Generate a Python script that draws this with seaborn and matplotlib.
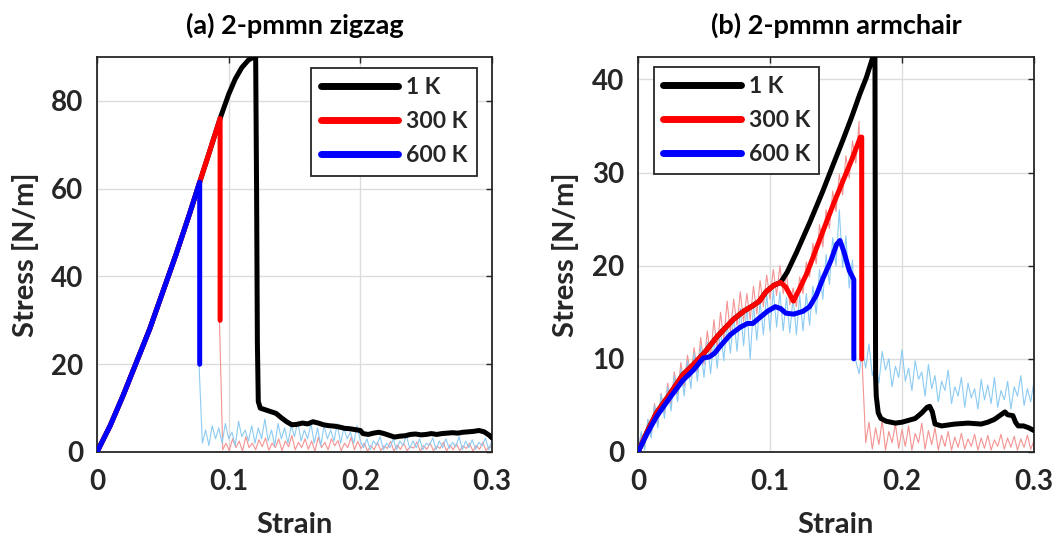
import numpy as np
import matplotlib
matplotlib.use("Agg")
import matplotlib.pyplot as plt
import seaborn as sns

# ---------------- data: panel (a) 2-pmmn zigzag ----------------
a_black_strain = [0, 0.01, 0.02, 0.03, 0.04, 0.05, 0.06, 0.07, 0.078, 0.085, 0.0935, 0.1, 0.105,
                  0.11, 0.115, 0.119, 0.1205, 0.1212, 0.1218, 0.1225, 0.124, 0.128, 0.132, 0.136,
                  0.14, 0.144, 0.148, 0.152, 0.156, 0.16, 0.164, 0.168, 0.172, 0.176, 0.18, 0.184,
                  0.188, 0.192, 0.196, 0.2, 0.202, 0.206, 0.21, 0.214, 0.218, 0.222, 0.226, 0.23,
                  0.234, 0.238, 0.242, 0.246, 0.25, 0.254, 0.258, 0.262, 0.266, 0.27, 0.274, 0.278,
                  0.282, 0.286, 0.29, 0.294, 0.298, 0.3]
a_black_stress = [0, 6, 13, 20.5, 28, 36.5, 45, 54, 61.5, 68, 76, 81.5, 85,
                  87.6, 89.3, 90.0, 90.2, 60, 25, 11.5, 10, 9.6, 9.2, 8.8,
                  7.8, 6.9, 6.2, 6.3, 6.6, 6.4, 6.9, 6.6, 6.2, 6.0, 5.9, 5.7,
                  5.4, 5.3, 5.1, 4.9, 4.2, 4.0, 4.3, 4.5, 4.2, 3.8, 3.4, 3.6,
                  3.7, 4.0, 4.1, 3.9, 4.0, 4.2, 4.0, 4.2, 4.3, 4.4, 4.3, 4.5,
                  4.6, 4.7, 4.9, 4.6, 3.8, 3.2]
a_red_strain = [0, 0.01, 0.02, 0.03, 0.04, 0.05, 0.06, 0.07, 0.078, 0.085, 0.0935, 0.0935]
a_red_stress = [0, 6, 13, 20.5, 28, 36.5, 45, 54, 61.5, 68, 76, 30]
a_blue_strain = [0, 0.01, 0.02, 0.03, 0.04, 0.05, 0.06, 0.07, 0.078, 0.078]
a_blue_stress = [0, 6, 13, 20.5, 28, 36.5, 45, 54, 61.5, 20]

# raw (noisy) traces after fracture, sampled every 0.0025 strain
a_red_raw_start = 0.093
a_red_raw = [30, 0.5, 2, 0.3, 3, 1, 2.5, 0.2, 3.5, 1, 2, 0.5, 2.8, 1.2, 3.2, 0.4, 2, 1, 3, 0.3,
             2.5, 1.2, 3.8, 0.5, 2.2, 1, 3, 0.6, 2.5, 0.2, 3.3, 1, 2.2, 0.5, 3, 1.4, 2.6, 0.3,
             2, 1, 3.4, 0.5, 2.4,
             0.8, 2, 0.2, 1.5, 0.5, 2.2, 0.3, 1.4, 0.8, 2.4, 0.2, 1.6, 0.6, 2, 0.3, 1.2, 0.9,
             2.3, 0.2, 1.5, 0.6, 2.1, 0.3, 1.3, 0.8, 2.2, 0.2, 1.6, 0.5, 1.9, 0.3, 1.4, 0.8, 2,
             0.2, 1.5, 0.6, 2.2, 0.3, 1.3, 0.7]
a_blue_raw_start = 0.0775
a_blue_raw = [20, 2, 5, 1.5, 6, 3, 5.5, 2, 6.5, 3, 4.5, 1.5, 7, 3.5, 5, 2.5, 6, 2, 5.5, 3,
              7.5, 2.5, 5, 1.5, 6.5, 3, 5.5, 2, 6, 3.5, 7, 2.5, 5, 3, 6.5, 2, 5.5, 1.5, 6, 3,
              5, 2.5, 6.5, 2, 5.5, 3, 4.5, 2, 6, 2.5,
              1, 3, 0.5, 2.5, 1.5, 3.5, 0.5, 2, 1, 3, 0.5, 2.5, 1.5, 3.8, 0.8, 2.5, 1, 3, 0.5, 2,
              1.5, 3.2, 0.5, 2.5, 1, 3, 0.8, 2.2, 1.2, 3.5, 0.5, 2.5, 1, 2.8, 0.6, 2.2, 1.4, 3.2,
              0.5, 2.6]

# ---------------- data: panel (b) 2-pmmn armchair ----------------
b_black_strain = [0, 0.007, 0.014, 0.024, 0.034, 0.042, 0.05, 0.06, 0.072, 0.08, 0.087, 0.092,
                  0.097, 0.103, 0.108, 0.113, 0.12, 0.13, 0.14,
                  0.148, 0.155, 0.162, 0.168, 0.173, 0.1775, 0.1795, 0.1798, 0.18, 0.1805,
                  0.182, 0.184, 0.188, 0.195, 0.2, 0.205, 0.21, 0.215, 0.219, 0.221, 0.223,
                  0.225, 0.23, 0.24, 0.25, 0.26, 0.265, 0.27, 0.275, 0.278, 0.28, 0.284,
                  0.286, 0.288, 0.292, 0.296, 0.3]
b_black_stress = [0, 2.2, 4.2, 6.2, 8.3, 9.4, 10.6, 12.4, 14.2, 15.1, 15.7, 16.2,
                  17.2, 17.9, 18.2, 19.3, 21.4, 24.6, 28.0,
                  30.9, 33.4, 36.0, 38.4, 40.2, 42.2, 43.5, 20, 8, 6,
                  4.2, 3.6, 3.3, 3.1, 3.2, 3.4, 3.6, 4.2, 4.8, 4.9, 4.3,
                  3.0, 2.8, 3.0, 3.1, 3.0, 3.2, 3.5, 4.0, 4.3, 4.0, 3.9,
                  3.2, 2.8, 2.8, 2.6, 2.3]
b_red_strain = [0, 0.007, 0.014, 0.024, 0.034, 0.042, 0.05, 0.06, 0.072, 0.08, 0.087, 0.092,
                0.097, 0.103, 0.108, 0.112, 0.1177, 0.122, 0.128, 0.135, 0.142, 0.148, 0.155,
                0.162, 0.1685, 0.1695, 0.1695]
b_red_stress = [0, 2.2, 4.2, 6.2, 8.3, 9.4, 10.6, 12.4, 14.2, 15.1, 15.7, 16.2,
                17.2, 17.9, 18.2, 17.7, 16.2, 17.4, 19.2, 21.8, 24.4, 26.6, 29.0,
                31.4, 33.8, 33.8, 10]
b_blue_strain = [0, 0.007, 0.014, 0.024, 0.034, 0.042, 0.0495, 0.054, 0.058, 0.0625, 0.07,
                 0.0775, 0.083, 0.087, 0.092, 0.098, 0.104, 0.108, 0.112, 0.118, 0.125, 0.13,
                 0.135, 0.14, 0.146, 0.1505, 0.153, 0.156, 0.16, 0.1635, 0.1635]
b_blue_stress = [0, 2.0, 3.8, 5.8, 7.7, 8.8, 10.1, 10.2, 10.6, 11.4, 12.6,
                 13.4, 13.8, 13.8, 14.4, 15.1, 15.6, 15.4, 14.9, 14.8, 15.1, 15.6,
                 16.8, 18.6, 20.5, 22.3, 22.7, 21.5, 19.5, 18.5, 10]

b_raw_start = 0.0
b_red_raw = [0, 2.0, 0.5, 3.5, 1.8, 5.2, 3.0, 6.3, 4.2, 7.4, 5.0, 8.6, 6.2, 9.6, 7.0, 10.4,
             8.0, 11.2, 8.6, 12.3, 9.4, 13.0, 10.2, 14.2, 11.0, 15.0, 12.0, 16.2, 12.8, 16.4,
             13.6, 17.2, 14.0, 17.0, 14.2, 17.8, 14.8, 18.4, 15.6, 19.0, 16.4, 19.6, 16.8,
             20.0, 17.0, 19.2, 15.8, 17.6, 15.6, 18.8, 17.0, 20.4, 18.8, 22.4, 20.2, 24.4,
             22.0, 26.0, 24.0, 28.0, 25.8, 29.8, 27.6, 31.8, 29.4, 33.4, 31.0, 35.5,
             9.0, 1.0, 3.2, 0.3, 2.6, 0.8, 3.4, 0.2, 2.2, 1.0, 3.0, 0.4, 2.4, 0.6, 2.8, 0.2,
             2.0, 1.0, 3.1, 0.3, 2.3, 0.8, 2.6, 0.2, 1.8, 0.6, 2.2, 0.2, 1.6, 0.5, 2.0, 0.3,
             1.4, 0.6, 1.9, 0.2, 1.5, 0.4, 1.8, 0.2, 1.3, 0.6, 1.9, 0.3, 1.5, 0.5, 1.7, 0.2,
             1.4, 0.5, 1.8, 0.3, 1.2]
b_blue_raw = [0, 2.2, 0.2, 3.5, 1.5, 5.0, 2.6, 6.2, 3.6, 7.0, 4.4, 8.2, 5.4, 9.0, 6.0, 9.8,
              6.8, 10.6, 7.6, 11.4, 8.0, 11.8, 8.4, 12.2, 9.0, 13.2, 9.8, 13.8, 10.6, 14.6,
              10.8, 15.4, 11.4, 15.6, 10.0, 15.8, 12.0, 16.2, 12.6, 17.0, 13.0, 17.4, 13.4,
              17.2, 13.0, 16.6, 12.8, 16.6, 12.6, 16.8, 13.0, 17.0, 13.6, 17.8, 14.8, 19.6,
              16.4, 21.2, 18.0, 23.0, 20.0, 26.0, 19.8, 23.2, 17.6, 20.6,
              9.8, 8.4, 10.9, 9.0, 11.6, 8.2, 9.6, 7.4, 10.8, 8.8, 10.0, 7.0, 9.2, 8.0, 11.0,
              7.6, 9.0, 6.6, 9.8, 7.8, 8.6, 6.0, 9.4, 6.8, 8.2, 5.4, 7.6, 6.6, 8.8, 5.2, 7.0,
              6.0, 8.0, 4.8, 7.4, 5.8, 6.8, 4.6, 7.8, 5.6, 7.2, 5.2, 8.0, 4.8, 6.6, 5.6, 7.6,
              4.6, 7.0, 6.0, 8.2, 5.0, 6.8, 5.4, 7.6]
raw_step = 0.0025

labels = ["1 K", "300 K", "600 K"]
titles = ["(a) 2-pmmn zigzag", "(b) 2-pmmn armchair"]
x_ticks = [0, 0.1, 0.2, 0.3]
x_tick_labels = ["0", "0.1", "0.2", "0.3"]
a_y_ticks = [0, 20, 40, 60, 80]
b_y_ticks = [0, 10, 20, 30, 40]

# ---------------- style ----------------
sns.set_theme(style="white")
plt.rcParams["font.family"] = ["Lato", "DejaVu Sans"]
plt.rcParams["font.weight"] = "bold"

C_BLACK, C_RED, C_BLUE = "#000000", "#ff0000", "#0000ff"
C_LRED, C_LBLUE = "#f39392", "#8ccbf3"
TXT = "#262626"

fig = plt.figure(figsize=(10.56, 5.39), dpi=100)
axA = fig.add_axes([97 / 1056, 1 - 452 / 539, 395 / 1056, 395 / 539])
axB = fig.add_axes([638 / 1056, 1 - 452 / 539, 396 / 1056, 395 / 539])


def raw_x(start, n):
    return start + np.arange(n) * raw_step


def line(ax, x, y, color, lw, label=None, z=2):
    sns.lineplot(x=np.asarray(x, float), y=np.asarray(y, float), ax=ax, color=color,
                 linewidth=lw, sort=False, estimator=None, label=label, legend=False,
                 zorder=z)


THICK = 3.6
THIN = 0.8

# panel (a)
line(axA, raw_x(a_red_raw_start, len(a_red_raw)), a_red_raw, C_LRED, THIN, z=1)
line(axA, raw_x(a_blue_raw_start, len(a_blue_raw)), a_blue_raw, C_LBLUE, THIN, z=1.1)
line(axA, a_black_strain, a_black_stress, C_BLACK, THICK, labels[0], z=3)
line(axA, a_red_strain, a_red_stress, C_RED, THICK, labels[1], z=3.1)
line(axA, a_blue_strain, a_blue_stress, C_BLUE, THICK, labels[2], z=3.2)

# panel (b)
line(axB, raw_x(b_raw_start, len(b_red_raw)), b_red_raw, C_LRED, THIN, z=1)
line(axB, raw_x(b_raw_start, len(b_blue_raw)), b_blue_raw, C_LBLUE, THIN, z=1.1)
line(axB, b_black_strain, b_black_stress, C_BLACK, THICK, labels[0], z=3)
line(axB, b_red_strain, b_red_stress, C_RED, THICK, labels[1], z=3.1)
line(axB, b_blue_strain, b_blue_stress, C_BLUE, THICK, labels[2], z=3.2)

for ax, title, yt, ylim in [(axA, titles[0], a_y_ticks, 90), (axB, titles[1], b_y_ticks, 42.4)]:
    ax.set_xlim(0, 0.3)
    ax.set_ylim(0, ylim)
    ax.set_xticks(x_ticks)
    ax.set_xticklabels(x_tick_labels)
    ax.set_yticks(yt)
    ax.grid(True, color="#dcdcdc", linewidth=1.0)
    ax.set_axisbelow(True)
    ax.tick_params(direction="in", length=4, width=1, colors=TXT, labelsize=20,
                   top=True, right=True)
    ax.tick_params(axis="x", pad=12)
    ax.tick_params(axis="y", pad=10)
    for lab in ax.get_xticklabels() + ax.get_yticklabels():
        lab.set_fontweight("bold")
    for s in ax.spines.values():
        s.set_color(TXT)
        s.set_linewidth(1.3)
    ax.set_title(title, fontsize=19.5, fontweight="bold", color="black", pad=17)
    ax.set_xlabel("Strain", fontsize=21, fontweight="bold", color=TXT)
    ax.set_ylabel("Stress [N/m]", fontsize=21, fontweight="bold", color=TXT)
    ax.xaxis.set_label_coords(0.5, -0.185)
    ax.xaxis.label.set_va("center")
    ax.yaxis.set_label_coords(-0.182, 0.5)
    ax.yaxis.label.set_va("center")

leg_kw = dict(frameon=True, fancybox=False, framealpha=1, edgecolor="#262626",
              handlelength=3.4, handletextpad=0.35, labelspacing=0.57, borderpad=0.4,
              borderaxespad=0, prop={"weight": "bold", "size": 16.5})
lgA = axA.legend(loc="upper right", bbox_to_anchor=(0.962, 0.972), **leg_kw)
lgB = axB.legend(loc="upper left", bbox_to_anchor=(0.040, 0.975), **leg_kw)
for lg in (lgA, lgB):
    lg.get_frame().set_linewidth(1.3)
    for h in lg.get_lines():
        h.set_linewidth(5)

fig.savefig("out.png", dpi=100)
